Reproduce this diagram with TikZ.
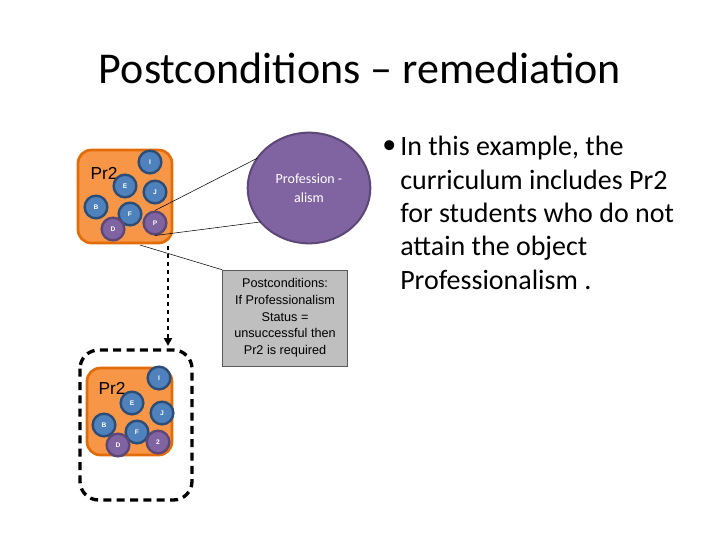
\documentclass[tikz,border=0pt]{standalone}
\usepackage{fontspec}
\setmainfont{Carlito}
\newfontfamily\arialf{Liberation Sans}
\usetikzlibrary{shapes.geometric,arrows.meta}
\definecolor{org}{HTML}{F79646}
\definecolor{orgd}{HTML}{E36C09}
\definecolor{blu}{HTML}{4F81BD}
\definecolor{blud}{HTML}{2C4D75}
\definecolor{pur}{HTML}{8064A2}
\definecolor{purd}{HTML}{5C4776}
\tikzset{
 obox/.style={draw=orgd,fill=org,line width=2pt,rounded corners=10pt},
 bc/.style={circle,draw=blud,fill=blu,line width=1.8pt,minimum size=17pt,inner sep=0pt,text=white,font=\arialf\fontsize{5}{5}\selectfont\bfseries},
 pc/.style={bc,draw=purd,fill=pur},
}
\begin{document}
\begin{tikzpicture}[x=0.75pt,y=-0.75pt]
\useasboundingbox (0,0) rectangle (720,540);
\node (title) at (360,68) {\fontsize{33}{40}\selectfont Postconditions -- remediation};
% top group
\draw[obox] (78,150) rectangle (172,243);
\node[font=\arialf\fontsize{13}{14}\selectfont] (pr2a) at (104,173) {Pr2};
\node[bc] (i1) at (150,162) {I};
\node[bc] (e1) at (125,186) {E};
\node[bc] (j1) at (155,192) {J};
\node[bc] (bb1) at (96,207) {B};
\node[bc] (f1) at (130,214) {F};
\node[pc] (d1) at (113,229) {D};
\node[pc] (p1) at (155,223) {P};
% ellipse
\node[ellipse,draw=purd,fill=pur,line width=1.5pt,minimum width=92pt,minimum height=83pt,outer sep=0pt,text=white,align=center,font=\fontsize{10.5}{14}\selectfont] (prof) at (309,188) {Profession -\\alism};
\draw[thin] (prof.150) -- (p1.north);
\draw[thin] (prof.215) -- (p1.south);
% callout
\node[draw=gray!70!black,fill=black!25,minimum width=94pt,minimum height=72pt,align=center,font=\arialf\fontsize{9.5}{12.5}\selectfont,inner sep=1pt] (post) at (285,318) {Postconditions:\\If Professionalism\\Status =\\unsuccessful then\\Pr2 is required};
\coordinate (ptr) at (140,245);
\draw[thin] (post.north west) -- (ptr);
% bottom group
\draw[line width=2.5pt,dash pattern=on 6pt off 4pt,rounded corners=14pt] (80,350) rectangle (192,500);
\draw[obox] (87,368) rectangle (172,455);
\node[font=\arialf\fontsize{13}{14}\selectfont] (pr2b) at (112,388) {Pr2};
\node[bc] (i2) at (159,378) {I};
\node[bc] (e2) at (132,403) {E};
\node[bc] (j2) at (162,413) {J};
\node[bc] (bb2) at (104,425) {B};
\node[bc] (f2) at (137,432) {F};
\node[pc] (d2) at (118,445) {D};
\node[pc] (z2) at (158,442) {2};
% dashed arrow
\coordinate (a1) at (168,246);
\coordinate (a2) at (168,346);
\draw[line width=1.5pt,dashed,-{Triangle[length=6pt,width=6pt]}] (a1) -- (a2);
% bullet text
\node[anchor=north west,inner sep=0pt] (bul) at (382,140) {\fontsize{21}{25}\selectfont\textbullet};
\node[anchor=north west,align=left,font=\fontsize{21}{25}\selectfont,inner sep=0pt] (txt2) at (400,136) {In this example, the\\curriculum includes Pr2\\for students who do not\\attain the object\\Professionalism .};
\end{tikzpicture}
\end{document}
